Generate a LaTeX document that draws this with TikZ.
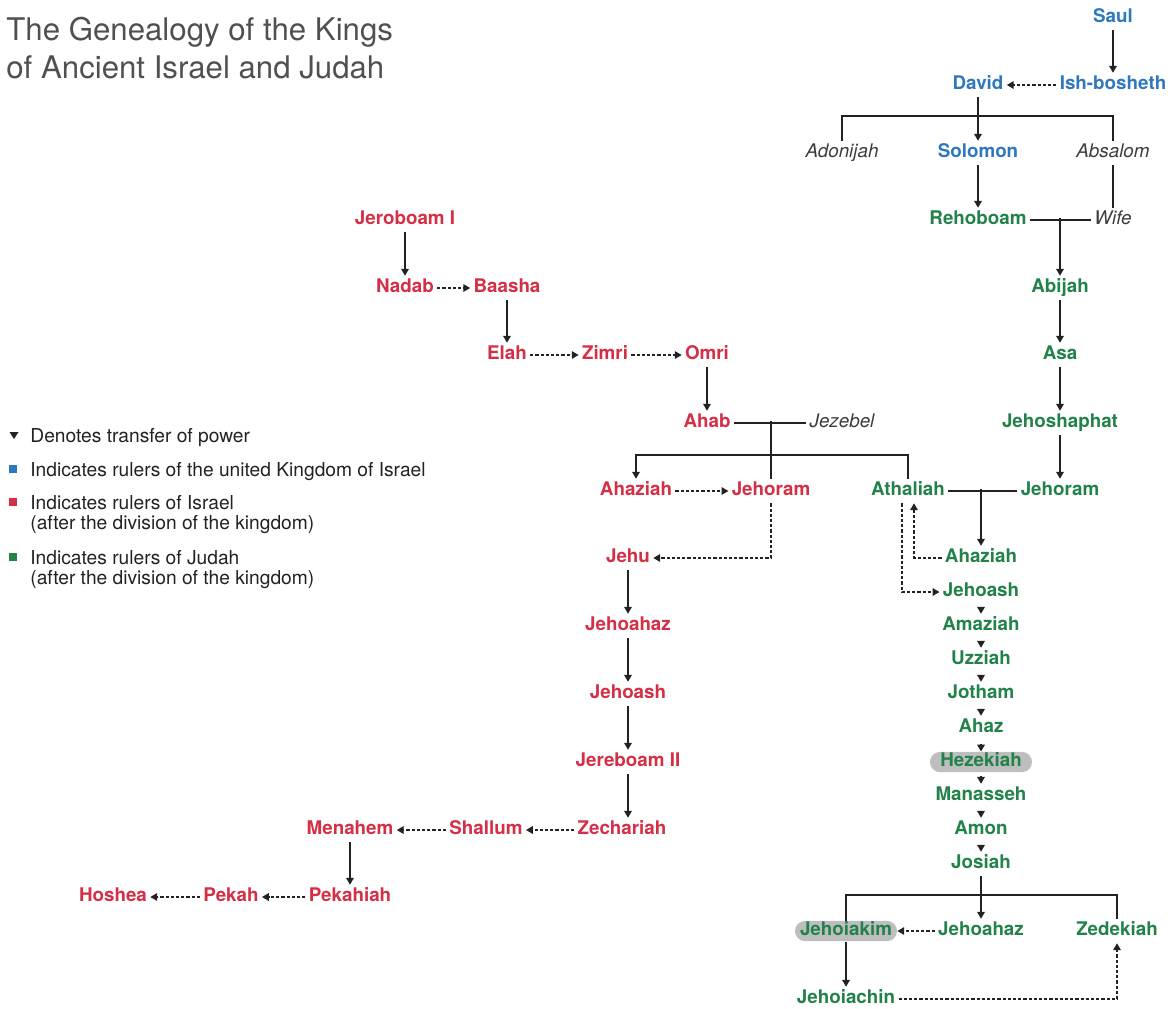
\documentclass[tikz,border=0pt]{standalone}
\usepackage{fontspec}
\setmainfont{TeX Gyre Heros}
\usetikzlibrary{arrows.meta, positioning}

\definecolor{unitblue}{RGB}{47,120,189}
\definecolor{israelred}{RGB}{212,47,69}
\definecolor{judahgreen}{RGB}{35,130,74}
\definecolor{spousegray}{RGB}{60,60,60}
\definecolor{titlegray}{RGB}{80,80,80}
\definecolor{pillgray}{RGB}{190,190,190}
\definecolor{linegray}{RGB}{34,34,34}

\begin{document}
\begin{tikzpicture}[x=0.5pt, y=-0.5pt,
		succ/.style={-{Triangle[length=3.4pt,width=3.8pt]}, line width=0.6pt, draw=linegray},
		usurp/.style={succ, dash pattern=on 1.6pt off 1pt},
		kin/.style={line width=0.6pt, draw=linegray},
		passon/.style={succ, shorten <=1.6pt}
	]
	\tikzstyle{King} = [ %bold name of a ruler
		font=\bfseries\fontsize{9.4}{11}\selectfont,
		inner sep=1.5pt,
		text height=6.9pt,
		text depth=2pt,
		yshift=-1pt
	]
	\tikzstyle{Unit} = [King, text=unitblue]
	\tikzstyle{North} = [King, text=israelred]
	\tikzstyle{South} = [King, text=judahgreen]
	\tikzstyle{Pill} = [South, fill=pillgray, rounded corners=5pt, inner ysep=0.6pt, inner xsep=2pt, minimum width=51pt]
	\tikzstyle{Spouse} = [King, font=\itshape\fontsize{9.4}{11}\selectfont, text=spousegray]
	\tikzstyle{Title} = [font=\fontsize{15.6}{18}\selectfont, text=titlegray, inner sep=0pt, anchor=base west]
	\tikzstyle{Legend} = [font=\fontsize{9.6}{11}\selectfont, text=linegray, inner sep=0pt, anchor=base west]
	\tikzstyle{Key} = [minimum size=4pt, inner sep=0pt]

	\useasboundingbox (0,0) rectangle (1173,1008);

	\node[Title] (title1) at (6,40) {The Genealogy of the Kings};
	\node[Title] (title2) at (6,78) {of Ancient Israel and Judah};

	% united kingdom
	\node[Unit] (saul) at (1113,16) {Saul};
	\node[Unit] (ishbosheth) at (1113,83) {Ish-bosheth};
	\node[Unit] (david) at (978,83) {David};
	\node[Spouse] (adonijah) at (842,151) {Adonijah};
	\node[Unit] (solomon) at (978,151) {Solomon};
	\node[Spouse] (absalom) at (1113,151) {Absalom};
	\coordinate (davidbar) at (978,116);

	% Judah
	\node[South] (rehoboam) at (978,218) {Rehoboam};
	\node[Spouse] (wife) at (1113,218) {Wife};
	\coordinate (rehojoin) at (1060,218);
	\node[South] (abijah) at (1060,286) {Abijah};
	\node[South] (asa) at (1060,353) {Asa};
	\node[South] (jehoshaphat) at (1060,421) {Jehoshaphat};
	\node[South] (jehoramJ) at (1060,489) {Jehoram};
	\node[South] (athaliah) at (908,489) {Athaliah};
	\coordinate (athjoin) at (981,489);
	\node[South] (ahaziahJ) at (981,556) {Ahaziah};
	\node[South] (jehoashJ) at (981,590) {Jehoash};
	\node[South] (amaziah) at (981,624) {Amaziah};
	\node[South] (uzziah) at (981,658) {Uzziah};
	\node[South] (jotham) at (981,692) {Jotham};
	\node[South] (ahaz) at (981,726) {Ahaz};
	\node[Pill] (hezekiah) at (981,760) {Hezekiah};
	\node[South] (manasseh) at (981,794) {Manasseh};
	\node[South] (amon) at (981,828) {Amon};
	\node[South] (josiah) at (981,862) {Josiah};
	\coordinate (josiahbar) at (981,895);
	\node[Pill] (jehoiakim) at (846,929) {Jehoiakim};
	\node[South] (jehoahazJ) at (981,929) {Jehoahaz};
	\node[South] (zedekiah) at (1117,929) {Zedekiah};
	\node[South] (jehoiachin) at (846,997) {Jehoiachin};

	% Israel
	\node[North] (jeroboam) at (405,218) {Jeroboam I};
	\node[North] (nadab) at (405,286) {Nadab};
	\node[North] (baasha) at (507,286) {Baasha};
	\node[North] (elah) at (507,353) {Elah};
	\node[North] (zimri) at (605,353) {Zimri};
	\node[North] (omri) at (707,353) {Omri};
	\node[North] (ahab) at (707,421) {Ahab};
	\node[Spouse] (jezebel) at (842,421) {Jezebel};
	\coordinate (ahabjoin) at (771,421);
	\coordinate (ahabbar) at (771,455);
	\node[North] (ahaziahI) at (636,489) {Ahaziah};
	\node[North] (jehoramI) at (771,489) {Jehoram};
	\node[North] (jehu) at (628,556) {Jehu};
	\node[North] (jehoahazI) at (628,624) {Jehoahaz};
	\node[North] (jehoashI) at (628,692) {Jehoash};
	\node[North] (jereboam) at (628,760) {Jereboam II};
	\node[North] (zechariah) at (622,828) {Zechariah};
	\node[North] (shallum) at (486,828) {Shallum};
	\node[North] (menahem) at (350,828) {Menahem};
	\node[North] (pekahiah) at (350,895) {Pekahiah};
	\node[North] (pekah) at (231,895) {Pekah};
	\node[North] (hoshea) at (113,895) {Hoshea};

	\draw[succ] (saul) -- (ishbosheth);
	\draw[usurp] (ishbosheth) -- (david);
	\draw[kin] (adonijah.north) |- (davidbar) -| (absalom.north);
	\draw[succ] (david) -- (solomon);
	\draw[kin] (absalom) -- (wife);
	\draw[succ] (solomon) -- (rehoboam);
	\draw[kin] (rehoboam) -- (wife);
	\draw[succ] (rehojoin) -- (abijah);
	\draw[succ] (abijah) -- (asa);
	\draw[succ] (asa) -- (jehoshaphat);
	\draw[succ] (jehoshaphat) -- (jehoramJ);
	\draw[kin] (athaliah) -- (jehoramJ);
	\draw[succ] (athjoin) -- (ahaziahJ);
	\draw[usurp] (ahaziahJ) -| ([xshift=3pt]athaliah.south);
	\draw[usurp] ([xshift=-3pt]athaliah.south) |- (jehoashJ);
	\draw[passon] (jehoashJ) -- (amaziah);
	\draw[passon] (amaziah) -- (uzziah);
	\draw[passon] (uzziah) -- (jotham);
	\draw[passon] (jotham) -- (ahaz);
	\draw[passon] (ahaz) -- (hezekiah);
	\draw[passon] (hezekiah) -- (manasseh);
	\draw[passon] (manasseh) -- (amon);
	\draw[passon] (amon) -- (josiah);
	\draw[kin] (jehoiakim.north) |- (josiahbar) -| (zedekiah.north);
	\draw[succ] (josiah) -- (jehoahazJ);
	\draw[usurp] (jehoahazJ) -- (jehoiakim);
	\draw[succ] (jehoiakim) -- (jehoiachin);
	\draw[usurp] (jehoiachin) -| (zedekiah);

	\draw[succ] (jeroboam) -- (nadab);
	\draw[usurp] (nadab) -- (baasha);
	\draw[succ] (baasha) -- (elah);
	\draw[usurp] (elah) -- (zimri);
	\draw[usurp] (zimri) -- (omri);
	\draw[succ] (omri) -- (ahab);
	\draw[kin] (ahab) -- (jezebel);
	\draw[kin] (ahabjoin) -- (jehoramI);
	\draw[succ] (athaliah.north) |- (ahabbar) -| (ahaziahI);
	\draw[usurp] (ahaziahI) -- (jehoramI);
	\draw[usurp] (jehoramI) |- (jehu);
	\draw[succ] (jehu) -- (jehoahazI);
	\draw[succ] (jehoahazI) -- (jehoashI);
	\draw[succ] (jehoashI) -- (jereboam);
	\draw[succ] (jereboam) -- (jereboam |- zechariah.north);
	\draw[usurp] (zechariah) -- (shallum);
	\draw[usurp] (shallum) -- (menahem);
	\draw[succ] (menahem) -- (pekahiah);
	\draw[usurp] (pekahiah) -- (pekah);
	\draw[usurp] (pekah) -- (hoshea);

	% legend
	\fill[linegray] (9.5,432) -- (18.5,432) -- (14,439) -- cycle;
	\node[Legend] (legpower) at (30,442) {Denotes transfer of power};
	\node[Key, fill=unitblue] (keyunit) at (12.5,469) {};
	\node[Legend] (legunit) at (30,476) {Indicates rulers of the united Kingdom of Israel};
	\node[Key, fill=israelred] (keynorth) at (12.5,502) {};
	\node[Legend] (legnorth) at (30,509) {Indicates rulers of Israel};
	\node[Legend] (legnorthb) at (30,529) {(after the division of the kingdom)};
	\node[Key, fill=judahgreen] (keysouth) at (12.5,557) {};
	\node[Legend] (legsouth) at (30,564) {Indicates rulers of Judah};
	\node[Legend] (legsouthb) at (30,584) {(after the division of the kingdom)};
\end{tikzpicture}
\end{document}
